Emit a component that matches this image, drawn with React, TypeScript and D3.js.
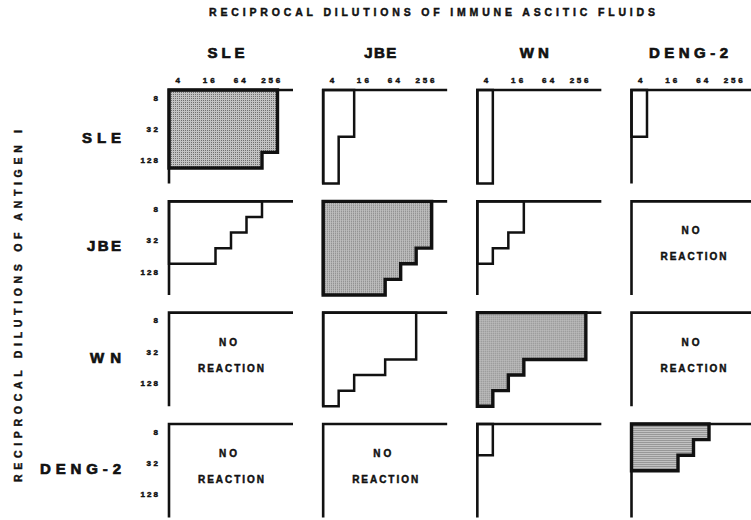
import * as d3 from 'd3';

const antigens = ['SLE', 'JBE', 'WN', 'DENG-2'];
const fluids = ['SLE', 'JBE', 'WN', 'DENG-2'];
const fluidTicks = [4, 16, 64, 256];
const antigenTicks = [8, 32, 128];
const antigenDilutions = [8, 16, 32, 64, 128, 256];

// highest reacting fluid dilution per antigen dilution (8, 16, 32 ...); null = no reaction
const sleAntigen = [[256, 256, 256, 256, 128], [8, 8, 8, 4, 4, 4], [4, 4, 4, 4, 4, 4], [4, 4, 4]];
const jbeAntigen = [[128, 64, 32, 16], [256, 256, 256, 128, 64, 32], [16, 16, 8, 4], null];
const wnAntigen = [null, [128, 128, 128, 32, 8, 4], [256, 256, 256, 16, 8, 4], null];
const dengAntigen = [null, null, [4, 4], [64, 32, 16]];

const reactions = [sleAntigen, jbeAntigen, wnAntigen, dengAntigen];

const W = 751;
const H = 520;
const cellX = 15.5;
const cellY = 15.6;
const font = "'Liberation Sans', Arial, sans-serif";
const ink = '#111';

const x = d3.scaleLog().base(2).domain([2, 512]).range([0, 8 * cellX]);
const y = d3.scaleLog().base(2).domain([4, 256]).range([0, 6 * cellY]);
const colX = d3.scaleLinear().domain([0, 3]).range([169, 631.5]);
const rowY = d3.scaleLinear().domain([0, 3]).range([90, 424]);

// bold-ish text like the old lettering
const txt = {
  fontFamily: font,
  fontWeight: 700,
  fill: ink,
  stroke: ink,
  lengthAdjust: 'spacing',
} as const;

const stepPath = (titers: number[]) => {
  const pts: [number, number][] = [[0, 0]];
  titers.forEach((t, i) => {
    const d = antigenDilutions[i];
    pts.push([x(t), y(d / 2)], [x(t), y(d)]);
  });
  pts.push([0, y(antigenDilutions[titers.length - 1])]);
  return d3.line()(pts) + 'Z';
};

const Panel = ({ r, c }: { r: number; c: number }) => {
  const titers = reactions[r][c];
  const home = r === c;
  return (
    <g transform={`translate(${colX(c)},${rowY(r)})`}>
      {titers ? (
        <path
          d={stepPath(titers)}
          fill={home ? 'url(#stipple)' : 'none'}
          stroke={ink}
          strokeWidth={home ? 3.4 : 2.5}
          strokeLinejoin="miter"
        />
      ) : (
        <g textAnchor="middle">
          <text {...txt} strokeWidth={0.45} x={59} y={33} fontSize={10} textLength={18}>
            NO
          </text>
          <text {...txt} strokeWidth={0.45} x={62} y={59} fontSize={10} textLength={66}>
            REACTION
          </text>
        </g>
      )}
      <path d={`M0,${y(256)}V0H${x(512)}`} fill="none" stroke={ink} strokeWidth={2.6} />
      {r === 0 &&
        fluidTicks.map((t) => (
          <text
            key={t}
            {...txt}
            strokeWidth={0.5}
            x={x(t / Math.SQRT2) + 1}
            y={-7}
            fontSize={8}
            textAnchor="middle"
            textLength={String(t).length * 6.8 - 1.5}
          >
            {t}
          </text>
        ))}
      {c === 0 &&
        antigenTicks.map((d) => (
          <text
            key={d}
            {...txt}
            strokeWidth={0.5}
            x={-11}
            y={y(d / Math.SQRT2) + 3}
            fontSize={8}
            textAnchor="end"
            textLength={String(d).length * 6 - 0.5}
          >
            {d}
          </text>
        ))}
    </g>
  );
};

const headerW: Record<string, number> = { SLE: 37, JBE: 32, WN: 29, 'DENG-2': 79 };

const App = () => {
  return (
    <svg width={W} height={H} style={{ position: 'absolute', left: 0, top: 0, background: '#fff' }}>
      <defs>
        <pattern id="stipple" width={2} height={2} patternUnits="userSpaceOnUse">
          <rect width={2} height={2} fill="#c2c2c2" />
          <rect width={1} height={1} fill="#6e6e6e" />
        </pattern>
      </defs>
      <text
        {...txt}
        strokeWidth={0.45}
        x={432}
        y={16}
        fontSize={10.5}
        textAnchor="middle"
        textLength={446}
      >
        RECIPROCAL  DILUTIONS  OF  IMMUNE  ASCITIC  FLUIDS
      </text>
      <text
        {...txt}
        strokeWidth={0.45}
        transform="translate(21.5,306) rotate(-90)"
        fontSize={10.5}
        textAnchor="middle"
        textLength={352}
      >
        RECIPROCAL  DILUTIONS  OF  ANTIGEN  I
      </text>
      {fluids.map((f, c) => (
        <text
          key={f}
          {...txt}
          strokeWidth={0.7}
          x={colX(c) + 57}
          y={58}
          fontSize={15}
          textAnchor="middle"
          textLength={headerW[f]}
        >
          {f}
        </text>
      ))}
      {antigens.map((a, r) => (
        <text
          key={a}
          {...txt}
          strokeWidth={0.7}
          x={121}
          y={rowY(r) + (r === 0 ? 53 : 50)}
          fontSize={15}
          textAnchor="end"
          textLength={headerW[a] + 2}
        >
          {a}
        </text>
      ))}
      {antigens.map((a, r) => fluids.map((f, c) => <Panel key={a + f} r={r} c={c} />))}
    </svg>
  );
};

export default App;
